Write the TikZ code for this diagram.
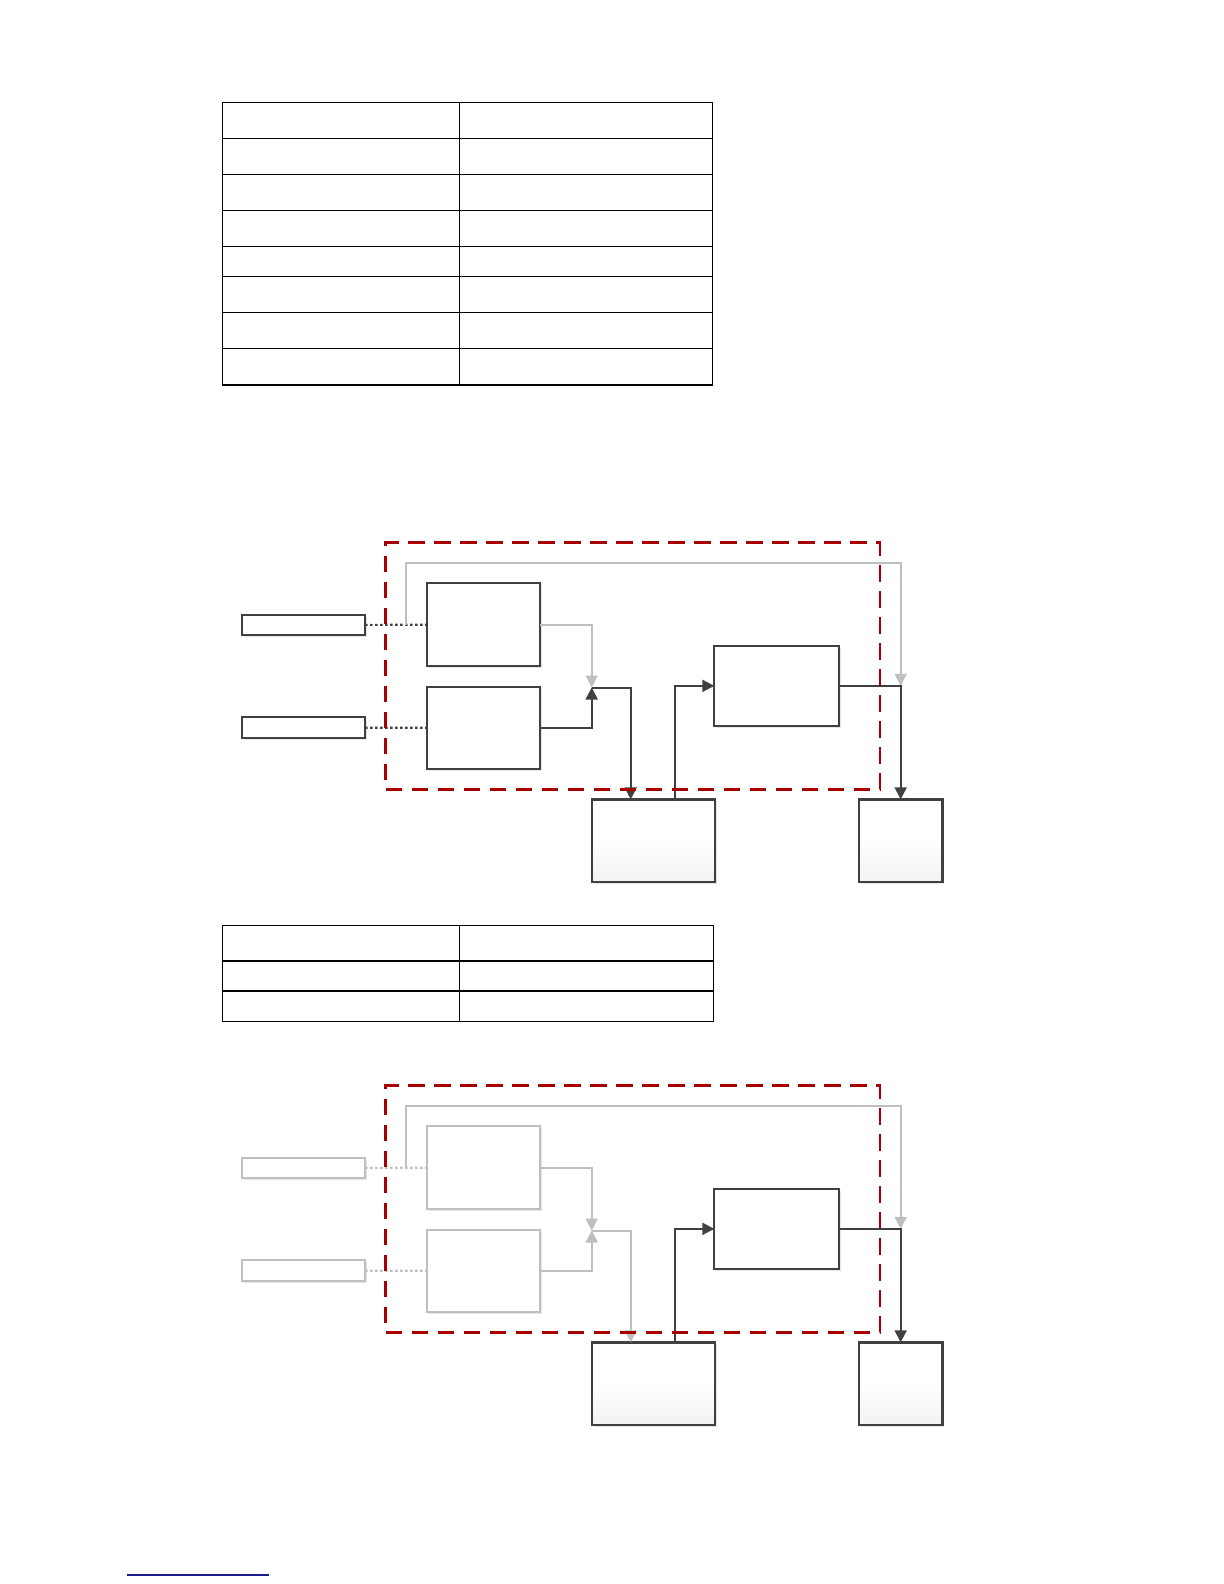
\documentclass[tikz,border=0pt]{standalone}
\usetikzlibrary{arrows.meta,fit,calc,shadows}
\definecolor{dk}{HTML}{404040}
\definecolor{lg}{HTML}{BFBFBF}
\definecolor{rd}{HTML}{A80000}
\definecolor{nv}{HTML}{1A1A8C}
\tikzset{
  box/.style={draw=#1, line width=1.1pt, fill=white, inner sep=0pt, outer sep=0pt,
    drop shadow={shadow xshift=1pt, shadow yshift=-1pt, fill=black, opacity=0.10}},
  sbox/.style={draw=dk, line width=1.2pt, inner sep=0pt, outer sep=0pt,
    top color=white, bottom color=black!5, middle color=white,
    drop shadow={shadow xshift=1pt, shadow yshift=-1pt, fill=black, opacity=0.10}},
  dots/.style={draw=#1, line width=1.1pt, dash pattern=on 1.3pt off 1.2pt},
  wire/.style={draw=#1, line width=1pt, -{Triangle[length=6pt,width=6pt]}},
  frame/.style={draw=rd, line width=1.4pt, dash pattern=on 8.3pt off 4.7pt, inner sep=0pt, outer sep=0pt},
  tbl/.style={draw=black, line width=0.65pt}
}
\newcommand\blockdiagram[3]{%
  \begin{scope}[shift={(0,#1)}, name prefix=#2-]
    \node[box=#3, fit={(241.7,615)(365,635)}] (r1) {};
    \node[box=#3, fit={(241.7,717.3)(365,738)}] (r2) {};
    \node[box=#3, fit={(426.7,583.3)(540,666)}] (A) {};
    \node[box=#3, fit={(426.7,686.7)(540,769)}] (B) {};
    \node[box=dk, fit={(714.3,645.7)(839.3,726)}] (D) {};
    \node[sbox, fit={(591.7,799.3)(715,881.7)}] (C) {};
    \node[sbox, fit={(859,799.3)(942.3,881.7)}] (E) {};
    \coordinate (tap) at (405.7,625);
    \coordinate (jl) at (591.7,687.5);
    \coordinate (jr) at (D.east -| E.north);
    \draw[dots=#3] (r1) -- (A);
    \draw[dots=#3] (r2) -- (B);
    \draw[wire=lg, line width=0.85pt] (tap) -- ++(0,-62.3) -| (jr);
    \draw[wire=lg, line width=0.85pt] (A.east) -| (jl);
    \draw[wire=#3] (B.east) -| (jl);
    \draw[wire=#3] (jl) -| ($(C.north west)+(39,0)$);
    \draw[wire=dk] ($(C.north west)+(83.3,0)$) |- (D.west);
    \draw[wire=dk] (D.east) -| (E.north);
    \node[frame, fit={(385.7,542.7)(880,789.3)}] (F) {};
  \end{scope}}
\begin{document}
\begin{tikzpicture}[x=0.5pt,y=-0.5pt]
  \useasboundingbox[fill=white] (0,0) rectangle (1224,1584);
  % table 1
  \draw[tbl] (222.3,102.3) rectangle (712.7,385);
  \foreach \yy in {138.3,174.3,210.3,246.3,276.3,312.3,348.3}
    \draw[tbl] (222.3,\yy) -- (712.7,\yy);
  \draw[tbl] (459.3,102.3) -- (459.3,385);
  % diagram 1
  \blockdiagram{0}{d1}{dk}
  % table 2
  \draw[tbl] (222.3,925.7) rectangle (713.5,1021.7);
  \foreach \yy in {961,991}
    \draw[tbl] (222.3,\yy) -- (713.5,\yy);
  \draw[tbl] (459.3,925.7) -- (459.3,1021.7);
  % diagram 2
  \blockdiagram{543}{d2}{lg}
  % footnote rule
  \draw[nv, line width=0.7pt] (126.7,1575) -- (269,1575);
\end{tikzpicture}
\end{document}
